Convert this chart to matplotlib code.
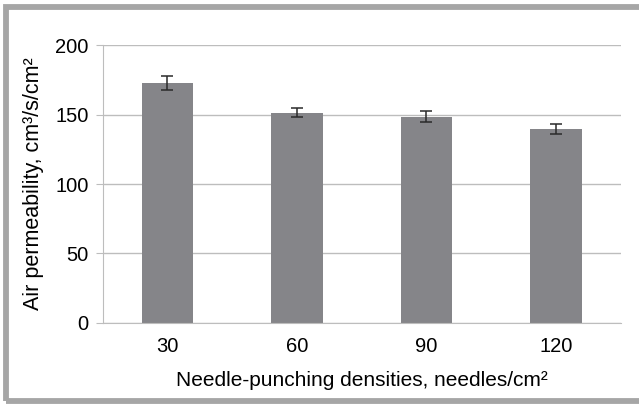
import matplotlib.pyplot as plt
from matplotlib.patches import Rectangle

plt.rcParams['font.family'] = ['Liberation Sans', 'DejaVu Sans']

# Air permeability per needle-punching density
densities = ['30', '60', '90', '120']
permeability = [173, 151.5, 148.5, 139.5]
errors = [5.0, 3.0, 4.0, 3.8]

fig = plt.figure(figsize=(6.39, 4.05), dpi=100)
ax = fig.add_axes([0.1607, 0.2032, 0.8107, 0.6849])

x = range(len(densities))
ax.bar(x, permeability, width=0.4, color='#858589', zorder=2)
ax.errorbar(x, permeability, yerr=errors, fmt='none', ecolor='#2a2a2a',
            elinewidth=1.1, capsize=4, capthick=1.1, zorder=3)

ax.set_xlim(-0.5, len(densities) - 0.5)
ax.set_ylim(0, 200)
ax.set_yticks([0, 50, 100, 150, 200])
ax.set_xticks(list(x))
ax.set_xticklabels(densities)
ax.yaxis.grid(True, color='#bdbdbd', linewidth=1.0, zorder=0)
ax.set_axisbelow(True)

for side in ['top', 'right']:
    ax.spines[side].set_visible(False)
ax.spines['left'].set_color('#bdbdbd')
ax.spines['bottom'].set_color('#bdbdbd')
ax.tick_params(axis='y', length=5, color='#bdbdbd', labelsize=14.5, pad=5)
ax.tick_params(axis='x', length=0, labelsize=14.5, pad=10)

ax.set_ylabel('Air permeability, cm³/s/cm²', fontsize=15.5, labelpad=8)
ax.set_xlabel('Needle-punching densities, needles/cm²', fontsize=15, labelpad=11)

# Gray frame around the figure, open on the right edge
fig.patches.append(Rectangle((0.0094, 0.0111), 1.0, 0.9716, transform=fig.transFigure,
                             fill=False, edgecolor='#a6a6a6', linewidth=4.2))

fig.savefig('out.png', dpi=100)
